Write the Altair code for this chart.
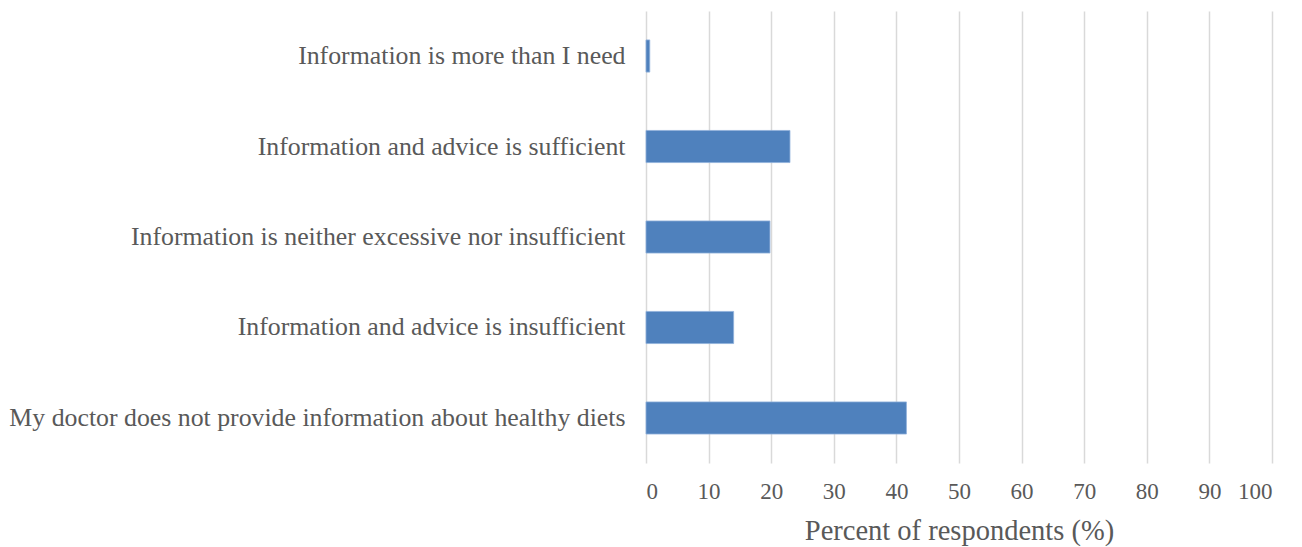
import altair as alt
import pandas as pd

# Survey responses about dietary information from doctors
responses = [
    "Information is more than I need",
    "Information and advice is sufficient",
    "Information is neither excessive nor insufficient",
    "Information and advice is insufficient",
    "My doctor does not provide information about healthy diets",
]
percent = [0.6, 23.0, 19.8, 14.0, 41.6]

df = pd.DataFrame({"response": responses, "percent": percent})

FONT = "Liberation Serif"
GREY = "#595959"

bars = alt.Chart(df).mark_bar(
    color="#4F81BD", stroke="#8FB0DA", strokeWidth=0.8
).encode(
    x=alt.X(
        "percent:Q",
        scale=alt.Scale(domain=[0, 100], nice=False),
        axis=alt.Axis(
            values=list(range(0, 101, 10)),
            title="Percent of respondents (%)",
            titleFont=FONT,
            titleFontSize=28.5,
            titleFontWeight="normal",
            titleColor=GREY,
            titlePadding=13,
            labelFont=FONT,
            labelFontSize=23,
            labelColor=GREY,
            labelPadding=17,
            domain=False,
            ticks=False,
            grid=True,
            gridColor="#D9D9D9",
            gridWidth=1.5,
        ),
    ),
    y=alt.Y(
        "response:N",
        sort=responses,
        scale=alt.Scale(paddingInner=0.645, paddingOuter=0.32),
        axis=alt.Axis(
            title=None,
            labelFont=FONT,
            labelFontSize=25.8,
            labelColor=GREY,
            labelPadding=21,
            labelLimit=800,
            domain=False,
            ticks=False,
        ),
    ),
)

chart = bars.properties(
    width=626,
    height=452,
    autosize=alt.AutoSizeParams(type="none"),
    padding={"left": 646, "top": 11, "right": 30, "bottom": 84},
    background="white",
).configure_view(stroke=None)

chart.save("out.html", embed_options={"renderer": "svg", "actions": False})
